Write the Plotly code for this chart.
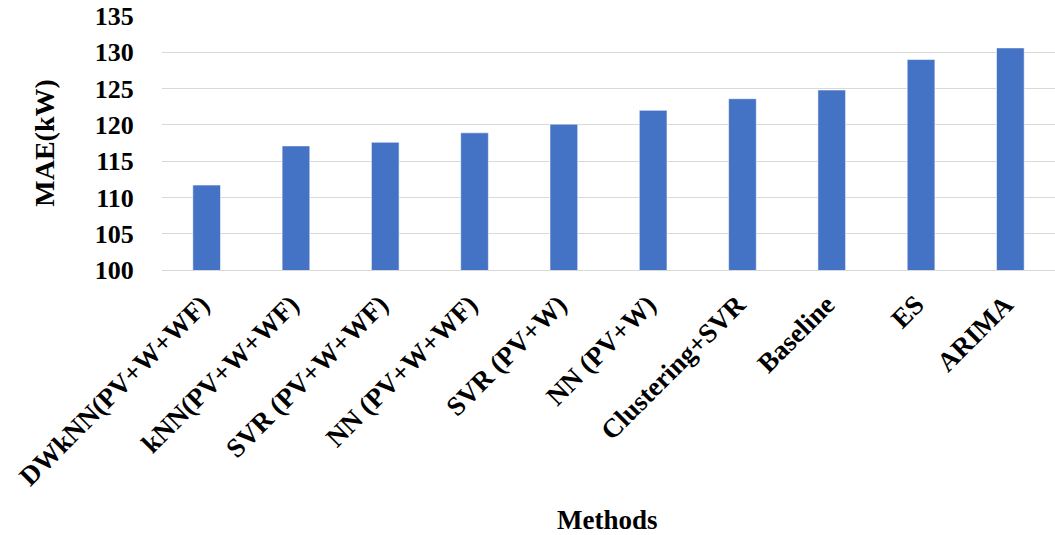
import plotly.graph_objects as go

# Mean absolute error of each forecasting method
methods = [
    "DWkNN(PV+W+WF)",
    "kNN(PV+W+WF)",
    "SVR (PV+W+WF)",
    "NN (PV+W+WF)",
    "SVR (PV+W)",
    "NN (PV+W)",
    "Clustering+SVR",
    "Baseline",
    "ES",
    "ARIMA",
]
mae_kw = [111.7, 117.1, 117.6, 118.9, 120.1, 122.0, 123.6, 124.8, 129.0, 130.6]
y_ticks = [100, 105, 110, 115, 120, 125, 130, 135]

W, H = 1055, 535
M_L, M_R, M_T, M_B = 162, 0, 16, 265
plot_w = W - M_L - M_R
plot_h = H - M_T - M_B

font_family = "Liberation Serif, Times New Roman, serif"
grid_color = "#d9d9d9"

fig = go.Figure(
    go.Bar(
        x=methods,
        y=mae_kw,
        marker=dict(color="#4472C4", line=dict(color="rgba(255,255,255,0.55)", width=1)),
        width=0.31,
    )
)

fig.update_layout(
    width=W,
    height=H,
    margin=dict(l=M_L, r=M_R, t=M_T, b=M_B, autoexpand=False),
    paper_bgcolor="white",
    plot_bgcolor="white",
    showlegend=False,
    font=dict(family=font_family, color="black"),
)

fig.update_xaxes(
    tickangle=-45,
    tickfont=dict(family=font_family, size=27, weight="bold", color="black"),
    ticklabelshift=-5,
    ticklabelstandoff=7,
    showgrid=False,
    showline=True,
    linecolor=grid_color,
    linewidth=1,
    ticks="",
    automargin=False,
)

fig.update_yaxes(
    range=[100, 135],
    tickvals=y_ticks,
    tickfont=dict(family=font_family, size=26, weight="bold", color="black"),
    showgrid=True,
    gridcolor=grid_color,
    gridwidth=1,
    zeroline=False,
    showline=False,
    ticks="outside",
    ticklen=22,
    tickcolor="rgba(0,0,0,0)",
    automargin=False,
)

# Axis titles
fig.add_annotation(
    text="MAE(kW)",
    xref="paper", yref="paper",
    x=(45 - M_L) / plot_w, y=(270.3 - 143) / plot_h,
    xanchor="center", yanchor="middle",
    textangle=-90,
    showarrow=False,
    font=dict(family=font_family, size=28, weight="bold", color="black"),
)
fig.add_annotation(
    text="Methods",
    xref="paper", yref="paper",
    x=(607 - M_L) / plot_w, y=(270.3 - 520) / plot_h,
    xanchor="center", yanchor="middle",
    showarrow=False,
    font=dict(family=font_family, size=27, weight="bold", color="black"),
)

fig.write_html("out.html")
